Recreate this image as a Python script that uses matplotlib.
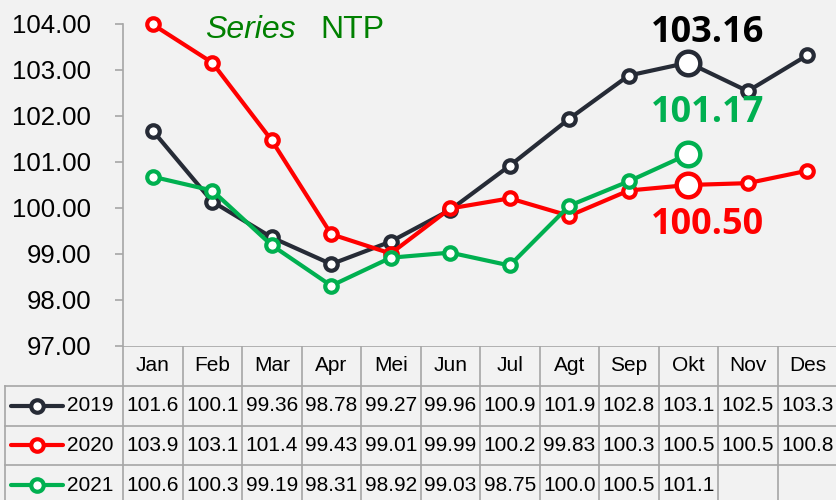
import matplotlib
matplotlib.use('Agg')
import matplotlib.pyplot as plt
import numpy as np

months = ['Jan', 'Feb', 'Mar', 'Apr', 'Mei', 'Jun', 'Jul', 'Agt', 'Sep', 'Okt', 'Nov', 'Des']
years = ['2019', '2020', '2021']
ntp_2019 = [101.68, 100.14, 99.36, 98.78, 99.27, 99.96, 100.92, 101.94, 102.88, 103.16, 102.54, 103.32]
ntp_2020 = [103.99, 103.16, 101.47, 99.43, 99.01, 99.99, 100.21, 99.83, 100.38, 100.50, 100.54, 100.81]
ntp_2021 = [100.68, 100.38, 99.19, 98.31, 98.92, 99.03, 98.75, 100.05, 100.58, 101.17]
y_ticks = [97, 98, 99, 100, 101, 102, 103, 104]
highlight_month = 'Okt'

series = [ntp_2019, ntp_2020, ntp_2021]
colors = ['#262b36', '#ff0000', '#00b050']
label_colors = ['#000000', '#ff0000', '#00b050']
label_offsets = [(19, 30), (19, -40), (19, 41)]

bg = '#f2f2f2'
grid_c = '#a6a6a6'
sans = 'Liberation Sans'

W, H = 837, 500
fig = plt.figure(figsize=(W / 100, H / 100), dpi=100, facecolor=bg)

# main chart
ax = fig.add_axes([123 / W, 154 / H, 714 / W, 346 / H])
ax.set_facecolor(bg)
x = np.arange(len(months))
hi = months.index(highlight_month)
for vals, c, lc, off in zip(series, colors, label_colors, label_offsets):
    xs = x[:len(vals)]
    ax.plot(xs, vals, color=c, lw=3, marker='o', ms=9, mew=3,
            mfc='white', mec=c, solid_capstyle='round', zorder=3)
    ax.plot(xs[hi], vals[hi], marker='o', ms=17, mew=3.2, mfc='white',
            mec=c, zorder=4)
    ax.annotate('{:.2f}'.format(vals[hi]), (xs[hi], vals[hi]),
                xytext=off, textcoords='offset pixels', ha='center',
                va='center', fontsize=26, fontweight='bold', color=lc,
                family='Open Sans')

ax.set_xlim(-0.5, len(months) - 0.5)
ax.set_ylim(97, 104 + 24 / 46)
ax.set_yticks(y_ticks)
ax.set_yticklabels(['{:.2f}'.format(v) for v in y_ticks], family=sans,
                   fontsize=18.5)
ax.set_xticks([])
for s in ['top', 'right', 'bottom']:
    ax.spines[s].set_visible(False)
ax.spines['left'].set_color(grid_c)
ax.spines['left'].set_linewidth(1.2)
ax.spines['left'].set_bounds(97, 104)
ax.tick_params(axis='y', length=6, width=1.2, color=grid_c, pad=17)

ax.text(0.115, 0.913, 'Series', transform=ax.transAxes, fontsize=23,
        style='italic', color='#008000', family=sans, va='center')
ax.text(0.276, 0.913, 'NTP', transform=ax.transAxes, fontsize=23,
        color='#008000', family=sans, va='center')

# data table below the chart
tx = fig.add_axes([0, -5 / H, 1, 159 / H])
tx.set_facecolor('none')
tx.axis('off')
col_w = 59.5
def px(p):
    return (p - 153) / col_w
tx.set_xlim(px(0), px(837))
tx.set_ylim(4, 0)

n = len(months)
for k in range(n + 1):
    tx.plot([k - 0.5, k - 0.5], [0, 4], color=grid_c, lw=1.2)
tx.plot([-0.5, n - 0.5], [0, 0], color=grid_c, lw=1.2)
for r in range(1, 4):
    tx.plot([px(5), n - 0.5], [r, r], color=grid_c, lw=1.2)
tx.plot([px(5), px(5)], [1, 4], color=grid_c, lw=1.2)

for i, m in enumerate(months):
    tx.text(i, 0.5, m, ha='center', va='center', fontsize=15, family=sans)

for r, (vals, c, yr) in enumerate(zip(series, colors, years)):
    yc = r + 1.5
    tx.plot([px(11), px(63)], [yc, yc], color=c, lw=3, solid_capstyle='round')
    tx.plot(px(37), yc, marker='o', ms=9, mew=3, mfc='white', mec=c)
    tx.text(px(67), yc, yr, ha='left', va='center', fontsize=15, family=sans)
    for i, v in enumerate(vals):
        tx.text(i, yc, '{:.2f}'.format(v)[:5], ha='center', va='center',
                fontsize=15, family=sans)

fig.savefig('out.png', dpi=100, facecolor=bg)
